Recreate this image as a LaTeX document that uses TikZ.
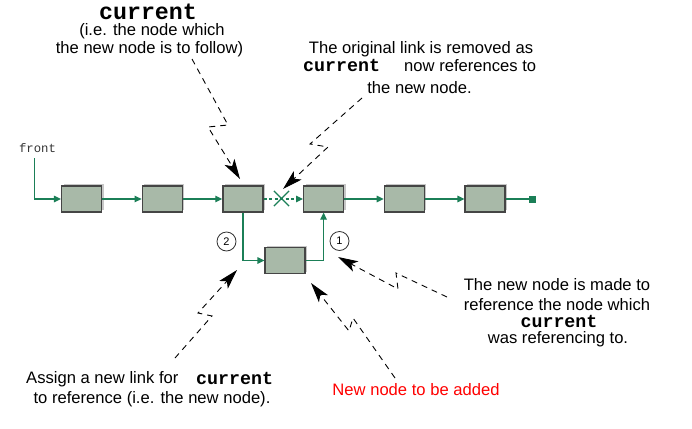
\documentclass[tikz,border=0pt]{standalone}
\usepackage{fontspec}
\setmainfont{Liberation Sans}
\setmonofont{Liberation Mono}
\usetikzlibrary{arrows.meta,shadows,shapes.misc}
\definecolor{lnk}{HTML}{1B7F57}
\definecolor{boxfill}{HTML}{A8B9A8}
\definecolor{boxline}{HTML}{454545}
\begin{document}
\begin{tikzpicture}[x=1pt,y=-1pt,
  listbox/.style={draw=boxline, line width=1.2pt, fill=boxfill, minimum width=40pt, minimum height=26pt, inner sep=0pt,
    drop shadow={shadow xshift=2pt, shadow yshift=2pt, fill=black!22, opacity=1}},
  link/.style={draw=lnk, line width=1.2pt, -{Triangle[length=7pt,width=6.5pt]}},
  plainlink/.style={draw=lnk, line width=1.2pt},
  note/.style={font=\fontsize{16.6}{19}\selectfont, inner sep=0pt, anchor=base},
  code/.style={font=\fontsize{18.3}{20}\selectfont\ttfamily\bfseries, inner sep=0pt, anchor=base},
  bigcode/.style={font=\fontsize{23.3}{24}\selectfont\ttfamily\bfseries, inner sep=0pt, anchor=base},
  callout/.style={draw=black, line width=0.9pt, dash pattern=on 6pt off 5pt, -{Stealth[length=20pt,width=11.5pt,inset=5pt]}},
  num/.style={circle, draw=black!80, line width=0.8pt, minimum size=19pt, inner sep=0pt, font=\fontsize{11}{12}\selectfont}
]
\useasboundingbox (0,0) rectangle (692,428);

% list nodes
\node[listbox] (b1) at (81.5,199) {};
\node[listbox] (b2) at (162.2,199) {};
\node[listbox] (b3) at (242.9,199) {};
\node[listbox] (b4) at (323.6,199) {};
\node[listbox] (b5) at (404.3,199) {};
\node[listbox] (b6) at (485,199) {};
\node[listbox] (nn) at (285,260.5) {};
\node[fill=lnk, minimum size=7pt, inner sep=0pt] (endsq) at (532.5,199) {};

% front
\node[font=\fontsize{12.3}{13}\selectfont\ttfamily, text=black!80, inner sep=0pt, anchor=base] (front) at (37.5,152.7) {front};
\coordinate (fs) at (34.5,158);
\draw[link] (fs) |- (b1.west);

% links
\draw[link] (b1) -- (b2);
\draw[link] (b2) -- (b3);
\draw[link, dash pattern=on 3pt off 2.5pt] (b3) -- (b4);
\node[cross out, draw=lnk, line width=1.2pt, minimum size=14pt, inner sep=0pt] (xmark) at (281.5,198.5) {};
\draw[link] (b4) -- (b5);
\draw[link] (b5) -- (b6);
\draw[plainlink] (b6) -- (endsq);
\draw[link] (b3.south) |- (nn.west);
\draw[link] (nn.east) -| (b4.south);

% step numbers
\node[num] (n2) at (226.5,241.5) {2};
\node[num] (n1) at (339.5,241) {1};

% texts
\node[bigcode] (t1a) at (148,20) {current};
\node[note] (t1b) at (152,36) {(i.e. the node which};
\node[note] (t1c) at (149.5,53) {the new node is to follow)};

\node[note] (t2a) at (421,53) {The original link is removed as};
\node[code, anchor=base west] (t2b) at (303,71) {current};
\node[note, anchor=base west] (t2c) at (404,71) {now references to};
\node[note] (t2d) at (419.5,93) {the new node.};

\node[note] (t3a) at (557,290) {The new node is made to};
\node[note] (t3b) at (557,310) {reference the node which};
\node[code] (t3c) at (559,327.5) {current};
\node[note] (t3d) at (558,343) {was referencing to.};

\node[note, anchor=base west] (t4a) at (26,383) {Assign a new link for};
\node[code, anchor=base west] (t4b) at (196,384) {current};
\node[note] (t4c) at (152,403) {to reference (i.e. the new node).};

\node[note, text=red] (t5) at (416,395) {New node to be added};

% callouts
\coordinate (c1s) at (192,59);  \coordinate (c1a) at (228,125); \coordinate (c1b) at (208,127); \coordinate (c1e) at (240,179);
\coordinate (c2s) at (362,98);  \coordinate (c2a) at (310,144); \coordinate (c2b) at (328,147); \coordinate (c2e) at (283,189);
\coordinate (c3s) at (447,297); \coordinate (c3a) at (396,273); \coordinate (c3b) at (398,289); \coordinate (c3e) at (338,257);
\coordinate (c4s) at (175,358); \coordinate (c4a) at (212,316); \coordinate (c4b) at (198,313); \coordinate (c4e) at (237,270);
\coordinate (c5s) at (395,378); \coordinate (c5a) at (353,318); \coordinate (c5b) at (349,331); \coordinate (c5e) at (311,283);
\draw[callout] (c1s) -- (c1a) -- (c1b) -- (c1e);
\draw[callout] (c2s) -- (c2a) -- (c2b) -- (c2e);
\draw[callout] (c3s) -- (c3a) -- (c3b) -- (c3e);
\draw[callout] (c4s) -- (c4a) -- (c4b) -- (c4e);
\draw[callout] (c5s) -- (c5a) -- (c5b) -- (c5e);
\end{tikzpicture}
\end{document}
